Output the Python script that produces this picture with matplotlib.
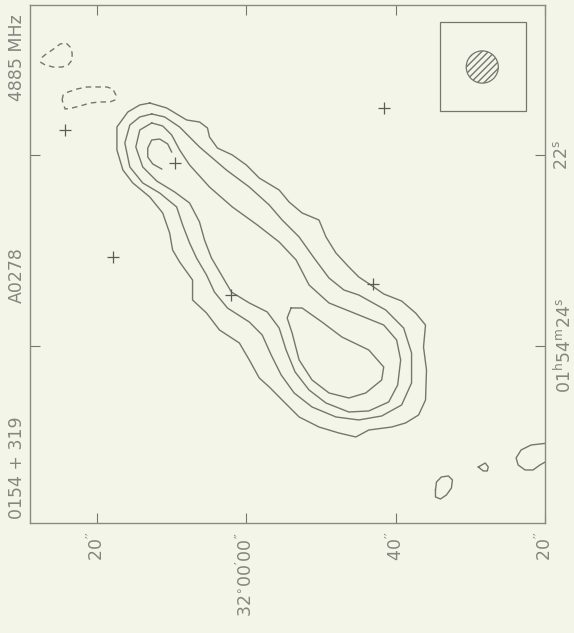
import numpy as np
import matplotlib.pyplot as plt
from matplotlib.patches import Ellipse, Rectangle

# 0154+319 (A0278) at 4885 MHz
# offsets in arcsec: dec relative to 32d00m00s, ra relative to 01h54m22s
lvl1_dec = [12.93, 10.67, 8.0, 6.27, 5.2, 4.93, 3.87, 1.87, 0.0, -1.73, -4.4, -5.73, -7.47,
            -9.73, -10.67, -12.0, -13.73, -15.07, -16.67, -18.4, -20.8, -22.67, -24.0, -23.73,
            -24.13, -24.0, -23.07, -21.33, -19.47, -16.4, -14.67, -12.4, -9.73, -7.07, -4.8,
            -3.07, -1.73, -0.4, 0.93, 3.6, 5.33, 7.2, 7.2, 8.93, 9.87, 10.27, 11.2, 12.93, 15.2,
            16.53, 17.33, 17.33, 15.87, 14.27, 12.93]
lvl1_ra = [-6.93, -6.27, -4.67, -4.4, -3.6, -2.4, -0.93, 0.0, 1.33, 3.07, 4.67, 6.27, 7.73,
           8.67, 10.93, 13.07, 14.93, 16.27, 17.33, 18.53, 19.47, 21.07, 22.67, 25.6,
           28.67, 32.67, 34.67, 35.73, 36.27, 36.67, 37.6, 37.07, 36.27, 34.93, 32.67,
           30.93, 29.73, 27.33, 25.07, 23.33, 21.07, 19.33, 16.67, 14.27, 12.67, 10.4, 7.73, 5.6, 3.73,
           2.0, -0.67, -3.73, -5.73, -6.67, -6.93]

lvl2_dec = [12.67, 10.93, 8.93, 6.27, 2.67, -0.4, -3.07, -4.8, -7.07, -9.07, -11.07, -13.07,
            -15.07, -18.67, -21.07, -22.13, -22.13, -20.8, -18.13, -15.07, -12.0, -8.8, -6.4,
            -4.67, -3.33, -2.13, -0.4, 2.53, 4.27, 5.33, 6.67, 7.6, 8.53, 9.33, 11.6, 13.87,
            15.6, 16.27, 15.6, 14.27, 12.67]
lvl2_ra = [-5.47, -5.07, -3.73, -1.07, 2.0, 4.27, 6.67, 8.67, 10.93, 13.73, 16.4, 18.0,
           18.67, 20.67, 23.07, 26.4, 30.4, 33.33, 34.8, 35.33, 34.93, 33.6, 31.73,
           29.33, 26.67, 24.0, 22.27, 20.4, 18.27, 16.0, 13.73, 11.73, 9.33, 6.93, 5.07, 3.73,
           1.6, -1.6, -4.0, -5.07, -5.47]

lvl3_dec = [12.67, 11.2, 10.0, 8.93, 7.6, 4.93, 1.87, -1.47, -4.4, -6.67, -8.4, -11.07,
            -15.07, -18.4, -20.13, -20.67, -20.27, -19.07, -16.4, -13.73, -10.67, -8.4,
            -6.53, -5.33, -4.4, -2.8, -0.4, 2.0, 3.33, 4.67, 5.6, 6.27, 7.6, 9.6, 12.0,
            13.87, 14.8, 14.27, 12.67]
lvl3_ra = [-4.27, -3.87, -2.67, -0.67, 1.33, 4.27, 6.93, 9.33, 11.6, 14.0, 17.33, 19.73,
           21.33, 22.67, 24.67, 27.33, 30.67, 32.93, 34.13, 34.27, 33.07, 31.33,
           28.93, 26.0, 23.07, 20.93, 19.73, 18.27, 16.0, 13.73, 11.33, 8.93, 6.4, 4.93, 3.47,
           1.6, -1.07, -3.33, -4.27]

# highest level: open arc on the head and closed loop on the tail
lvl4a_dec = [10.0, 10.53, 11.6, 12.67, 13.2, 13.2, 12.53, 11.33]
lvl4a_ra = [-0.4, -1.47, -2.13, -2.0, -0.93, 0.27, 1.2, 1.87]
lvl4b_dec = [-6.0, -7.47, -10.13, -12.8, -16.4, -18.4, -18.13, -16.0, -13.73, -11.07,
             -8.8, -7.07, -6.13, -5.47, -6.0]
lvl4b_ra = [20.4, 20.4, 22.27, 24.27, 26.0, 28.27, 30.0, 31.73, 32.4, 31.73,
            30.0, 27.33, 23.73, 21.73, 20.4]

# negative contours
neg1_dec = [27.6, 26.93, 25.87, 24.67, 23.87, 23.33, 23.33, 23.6, 24.13, 24.93, 26.0, 26.8, 27.47]
neg1_ra = [-12.4, -12.0, -11.73, -11.73, -12.0, -12.67, -13.6, -14.4, -14.93, -14.8, -14.0, -13.47, -12.93]
neg2_dec = [24.67, 24.53, 23.87, 22.67, 21.33, 20.0, 18.67, 17.87, 17.47, 17.6, 18.27,
            19.6, 20.93, 22.27, 23.33, 24.27, 24.67]
neg2_ra = [-7.33, -8.0, -8.4, -8.8, -9.07, -9.07, -9.07, -8.8, -8.0, -7.33, -7.07,
           -7.07, -6.93, -6.53, -6.27, -6.13, -7.33]

# small lowest-level islands
isl1_dec = [-25.33, -25.47, -26.13, -27.07, -27.6, -27.47, -26.8, -26.0, -25.33, -25.33]
isl1_ra = [44.67, 43.6, 42.93, 42.8, 43.33, 44.4, 45.33, 45.87, 45.6, 44.67]
isl2_dec = [-31.07, -32.0, -32.4, -32.27, -31.73, -31.07]
isl2_ra = [41.6, 41.07, 41.6, 42.13, 42.13, 41.6]
isl3_dec = [-40.5, -38.13, -36.8, -36.13, -36.4, -37.33, -38.4, -39.33, -40.5]
isl3_ra = [38.4, 38.67, 39.33, 40.4, 41.33, 42.0, 42.0, 41.33, 40.67]

# optical objects
cross_dec = [24.27, 17.87, 9.6, 2.0, -16.93, -18.4]
cross_ra = [-3.33, 13.6, 1.07, 18.67, 17.2, -6.27]

# restoring beam
beam_dec, beam_ra, beam_fwhm = -31.6, -11.73, 4.3

ra_tick_sec = [22, 24]
ra_tick_labels = [r'$\mathregular{22^{s}}$', r'$\mathregular{01^{h}54^{m}24^{s}}$']
dec_ticks = [20, 0, -20, -40]
dec_tick_labels = [r'$\mathregular{20^{\prime\prime}}$',
                   r'$\mathregular{32^{\circ}00^{\prime}00^{\prime\prime}}$',
                   r'$\mathregular{40^{\prime\prime}}$',
                   r'$\mathregular{20^{\prime\prime}}$']

bg = '#f3f5e9'
ink = '#76766e'

fig = plt.figure(figsize=(5.74, 6.33), dpi=100, facecolor=bg)
ax = fig.add_axes([30 / 574, 1 - 523 / 633, 515 / 574, 518 / 633], facecolor=bg)

lw = 1.0
for d, r in [(lvl1_dec, lvl1_ra), (lvl2_dec, lvl2_ra), (lvl3_dec, lvl3_ra),
             (lvl4a_dec, lvl4a_ra), (lvl4b_dec, lvl4b_ra),
             (isl1_dec, isl1_ra), (isl2_dec, isl2_ra), (isl3_dec, isl3_ra)]:
    ax.plot(d, r, color=ink, lw=lw)
for d, r in [(neg1_dec, neg1_ra), (neg2_dec, neg2_ra)]:
    ax.plot(d, r, color=ink, lw=lw, linestyle=(0, (4, 3)))

ax.plot(cross_dec, cross_ra, linestyle='none', marker='+', markersize=9,
        markeredgewidth=0.9, color='#5c5c55')

# beam box in the corner
ax.add_patch(Rectangle((beam_dec + 5.7, beam_ra - 6.0), -11.5, 11.8, fill=False,
                       edgecolor=ink, lw=0.9))
ax.add_patch(Ellipse((beam_dec, beam_ra), beam_fwhm, beam_fwhm, facecolor='none',
                     edgecolor=ink, hatch='/////', lw=0.9))

ax.set_xlim(28.97, -40)
ax.set_ylim(49.07, -20)

ra_scale = 15 * np.cos(np.radians(32.0))
ax.set_yticks([(s - 22) * ra_scale for s in ra_tick_sec])
ax.set_yticklabels(ra_tick_labels)
ax.set_xticks(dec_ticks)
ax.set_xticklabels(dec_tick_labels)

ax.tick_params(direction='in', length=7, width=0.8, color=ink,
               top=True, right=True, left=True, bottom=True,
               labelleft=False, labelright=True, labelsize=12.5, labelcolor='#86867e', pad=6)
ax.tick_params(axis='x', labelrotation=90)
ax.tick_params(axis='y', labelrotation=90)
for lab in ax.get_yticklabels():
    lab.set_verticalalignment('center')

for sp in ax.spines.values():
    sp.set_color('#8a8a82')
    sp.set_linewidth(1.0)

lab_kw = dict(rotation=90, ha='center', va='center', fontsize=12.5, color='#86867e')
fig.text(17 / 574, 1 - 58 / 633, '4885 MHz', **lab_kw)
fig.text(17 / 574, 1 - 275 / 633, 'A0278', **lab_kw)
fig.text(17 / 574, 1 - 468 / 633, '0154 + 319', **lab_kw)

fig.savefig('out.png', dpi=100, facecolor=bg)
